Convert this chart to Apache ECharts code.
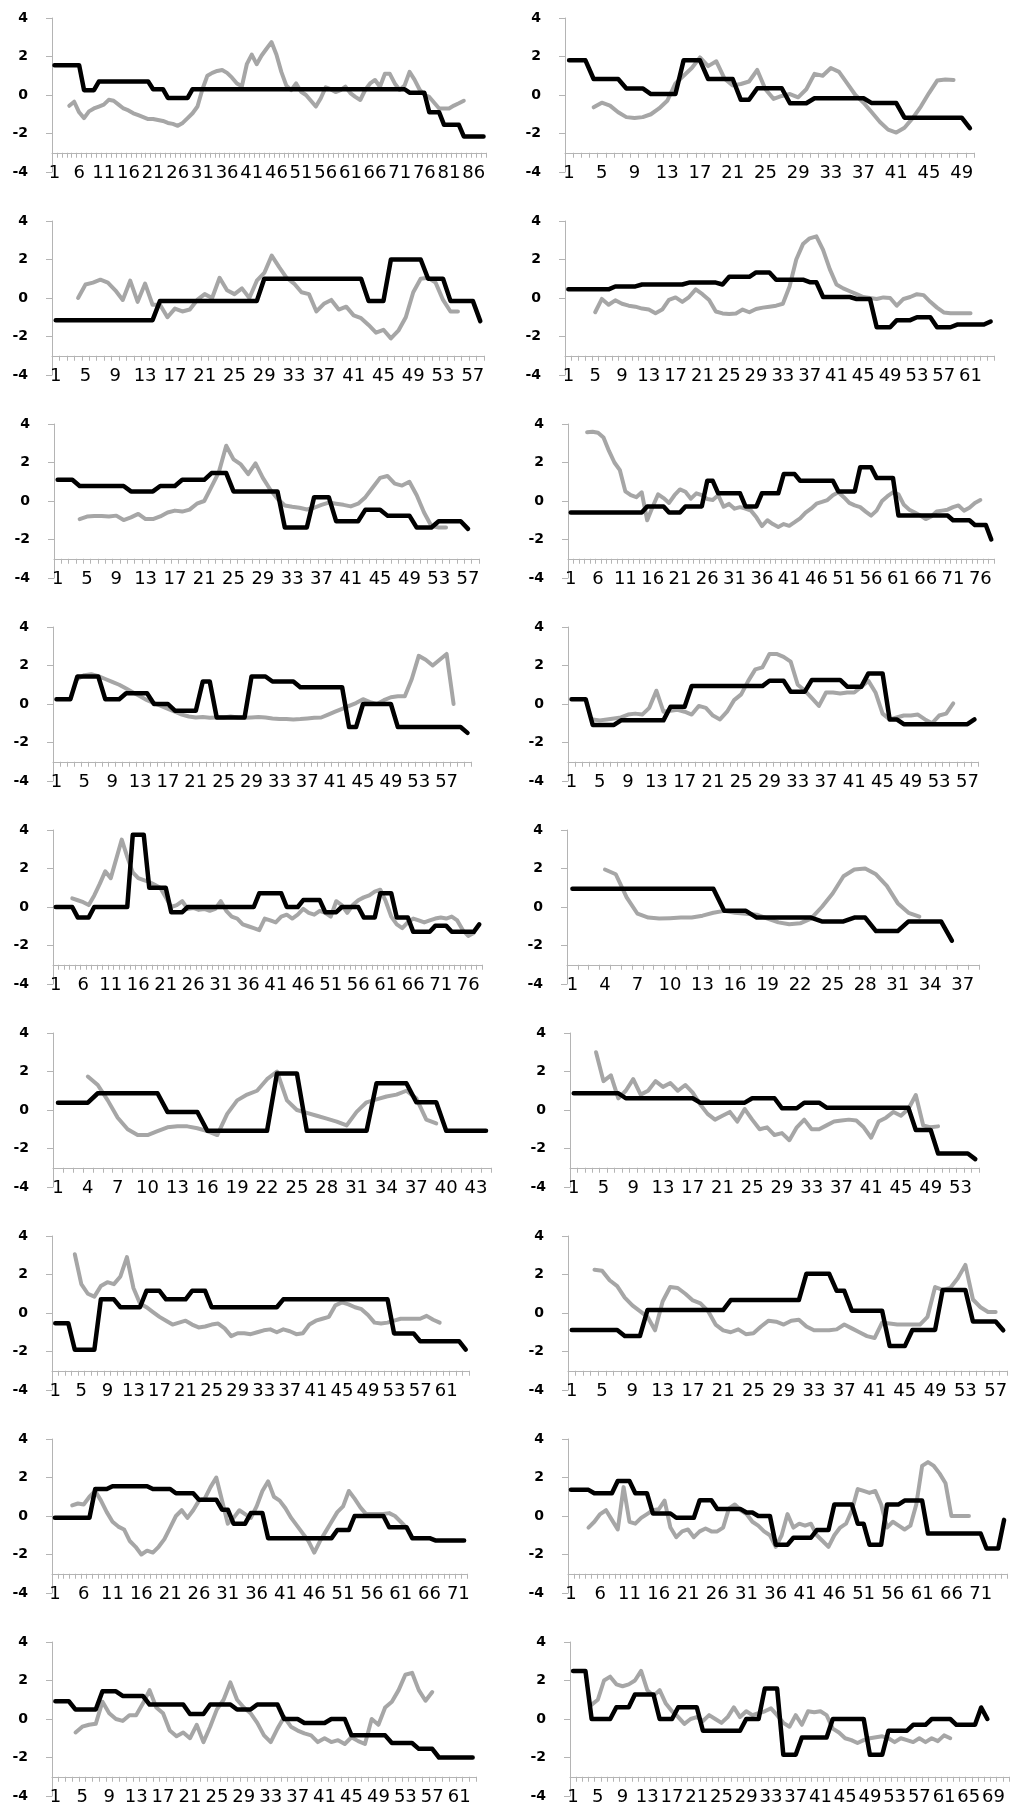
<!DOCTYPE html>
<html>
<head>
<meta charset="utf-8">
<title>Panels</title>
<script src="https://cdn.jsdelivr.net/npm/echarts@6/dist/echarts.min.js"></script>
<style>
html, body { margin: 0; padding: 0; background: #fff; }
#chart { width: 1010px; height: 1810px; }
</style>
</head>
<body>
<div id="chart"></div>
<script>
// 每个小图的类别数和标签间隔
var catCounts = [88, 50, 58, 64, 58, 78, 60, 58, 78, 38, 44, 55, 64, 58, 72, 75, 63, 71];
var labelSteps = [5, 4, 4, 4, 4, 5, 4, 4, 5, 3, 3, 4, 4, 4, 5, 5, 4, 4];

// 灰线数据
var gray01 = [null, null, null,
  -0.56, -0.35, -0.9, -1.2, -0.85, -0.7, -0.6, -0.5, -0.25, -0.3,
  -0.5, -0.7, -0.8, -0.95, -1.05, -1.15, -1.25, -1.25, -1.3, -1.35,
  -1.45, -1.5, -1.6, -1.45, -1.2, -0.95, -0.6, 0.3, 1.0, 1.15,
  1.25, 1.3, 1.15, 0.9, 0.6, 0.45, 1.6, 2.1, 1.6, 2.05,
  2.4, 2.75, 2.1, 1.2, 0.5, 0.25, 0.6, 0.17, 0.0, -0.3,
  -0.6, -0.17, 0.4, 0.3, 0.15, 0.25, 0.43, 0.1, -0.1, -0.26,
  0.26, 0.6, 0.78, 0.43, 1.1, 1.1, 0.6, 0.26, 0.5, 1.2,
  0.8, 0.3, 0.0, -0.1, -0.4, -0.7, -0.7, -0.7, -0.55, -0.43,
  -0.3, null, null, null, null];
var gray02 = [null, null, null,
  -0.64, -0.4, -0.55, -0.9, -1.15, -1.2, -1.15, -1.0, -0.7, -0.3,
  0.6, 1.0, 1.4, 1.95, 1.5, 1.75, 0.85, 0.5, 0.57, 0.7,
  1.3, 0.3, -0.2, -0.05, 0.05, -0.12, 0.3, 1.1, 1.0, 1.4,
  1.2, 0.6, 0.0, -0.4, -0.9, -1.4, -1.8, -1.95, -1.7, -1.2,
  -0.6, 0.1, 0.75, 0.8, 0.78, null, null];
var gray03 = [null, null, null,
  0.0, 0.7, 0.8, 0.95, 0.8, 0.4, -0.1, 0.9, -0.2, 0.75,
  -0.35, -0.35, -1.0, -0.55, -0.7, -0.6, -0.1, 0.2, 0.0, 1.05,
  0.4, 0.2, 0.5, 0.0, 0.9, 1.3, 2.2, 1.6, 1.05, 0.75,
  0.3, 0.2, -0.7, -0.3, -0.1, -0.6, -0.45, -0.9, -1.05, -1.4,
  -1.8, -1.65, -2.1, -1.7, -1.0, 0.3, 1.0, 1.05, 0.8, -0.1,
  -0.7, -0.7, null, null, null];
var gray04 = [null, null, null, null,
  -0.74, -0.05, -0.35, -0.12, -0.3, -0.4, -0.45, -0.55, -0.6, -0.79,
  -0.6, -0.1, 0.03, -0.2, 0.05, 0.45, 0.2, -0.1, -0.7, -0.8,
  -0.83, -0.8, -0.6, -0.74, -0.57, -0.5, -0.45, -0.4, -0.3, 0.6,
  2.0, 2.8, 3.1, 3.2, 2.5, 1.5, 0.7, 0.5, 0.35, 0.2,
  0.05, 0.0, -0.05, 0.03, 0.0, -0.4, -0.05, 0.05, 0.2, 0.15,
  -0.2, -0.5, -0.75, -0.79, -0.79, -0.79, -0.79, null, null, null];
var gray05 = [null, null, null,
  -0.94, -0.81, -0.78, -0.78, -0.81, -0.76, -0.99, -0.85, -0.67, -0.94,
  -0.94, -0.8, -0.6, -0.5, -0.55, -0.45, -0.14, 0.0, 0.75, 1.5,
  2.87, 2.16, 1.9, 1.4, 1.95, 1.2, 0.6, 0.12, -0.23, -0.3,
  -0.35, -0.44, -0.35, -0.2, -0.08, -0.14, -0.2, -0.28, -0.14, 0.2,
  0.7, 1.2, 1.3, 0.9, 0.8, 1.0, 0.3, -0.6, -1.3, -1.38,
  -1.38, null, null, null, null];
var gray06 = [null, null, null,
  3.57, 3.6, 3.55, 3.3, 2.6, 2.0, 1.6, 0.5, 0.3, 0.2,
  0.45, -1.0, -0.3, 0.35, 0.15, -0.1, 0.3, 0.6, 0.48, 0.12,
  0.4, 0.3, 0.1, 0.05, 0.3, -0.3, -0.15, -0.4, -0.32, -0.4,
  -0.5, -0.85, -1.3, -1.0, -1.2, -1.35, -1.2, -1.29, -1.1, -0.9,
  -0.6, -0.4, -0.14, -0.05, 0.05, 0.3, 0.45, 0.2, -0.1, -0.23,
  -0.32, -0.55, -0.76, -0.5, 0.0, 0.25, 0.45, 0.35, -0.2, -0.45,
  -0.6, -0.75, -0.94, -0.8, -0.55, -0.5, -0.45, -0.32, -0.23, -0.5,
  -0.35, -0.1, 0.05, null, null];
var gray07 = [null, null, null,
  1.3, 1.5, 1.55, 1.45, 1.3, 1.15, 1.0, 0.8, 0.6, 0.4,
  0.2, 0.05, -0.1, -0.25, -0.4, -0.55, -0.65, -0.7, -0.68, -0.72,
  -0.7, -0.7, -0.65, -0.7, -0.72, -0.7, -0.68, -0.7, -0.75, -0.78,
  -0.78, -0.8, -0.78, -0.75, -0.72, -0.7, -0.55, -0.4, -0.25, -0.1,
  0.05, 0.25, 0.1, 0.0, 0.2, 0.35, 0.4, 0.4, 1.3, 2.5,
  2.3, 2.0, 2.3, 2.6, 0.0, null, null];
var gray08 = [null, null, null,
  -0.8, -0.85, -0.8, -0.75, -0.7, -0.55, -0.5, -0.55, -0.2, 0.69,
  -0.4, -0.35, -0.3, -0.4, -0.55, -0.1, -0.2, -0.6, -0.8, -0.4,
  0.2, 0.5, 1.2, 1.8, 1.9, 2.6, 2.6, 2.45, 2.2, 1.0,
  0.7, 0.3, -0.1, 0.6, 0.6, 0.55, 0.6, 0.6, 0.9, 1.2,
  0.6, -0.5, -0.8, -0.7, -0.6, -0.6, -0.55, -0.8, -1.0, -0.6,
  -0.5, 0.03, null, null, null];
var gray09 = [null, null, null,
  0.45, 0.35, 0.25, 0.1, 0.6, 1.2, 1.85, 1.5, 2.5, 3.5,
  2.6, 1.8, 1.5, 1.4, 1.3, 1.15, 1.0, 0.5, 0.0, 0.1,
  0.3, -0.1, -0.05, -0.15, -0.1, -0.2, -0.1, 0.3, -0.2, -0.5,
  -0.6, -0.9, -1.0, -1.1, -1.2, -0.6, -0.7, -0.8, -0.5, -0.4,
  -0.6, -0.4, -0.1, -0.3, -0.4, -0.2, -0.3, -0.5, 0.3, 0.1,
  -0.3, 0.1, 0.35, 0.5, 0.6, 0.8, 0.9, 0.3, -0.5, -0.9,
  -1.1, -0.8, -0.6, -0.7, -0.8, -0.7, -0.6, -0.55, -0.6, -0.5,
  -0.7, -1.2, -1.5, -1.35, null];
var gray10 = [null, null, null,
  1.95, 1.7, 0.5, -0.35, -0.55, -0.6, -0.58, -0.55, -0.55, -0.45,
  -0.3, -0.2, -0.3, -0.35, -0.4, -0.6, -0.8, -0.9, -0.85, -0.6,
  0.0, 0.7, 1.6, 1.95, 2.0, 1.7, 1.1, 0.2, -0.3, -0.5,
  null, null, null, null, null];
var gray11 = [null, null, null,
  1.74, 1.3, 0.5, -0.4, -1.0, -1.3, -1.3, -1.1, -0.9, -0.85,
  -0.85, -0.95, -1.1, -1.3, -0.2, 0.5, 0.8, 1.0, 1.6, 2.0,
  0.5, 0.0, -0.15, -0.3, -0.45, -0.6, -0.8, -0.1, 0.4, 0.55,
  0.7, 0.8, 1.0, 0.6, -0.5, -0.7, null, null, null, null, null];
var gray12 = [null, null, null,
  3.0, 1.5, 1.8, 0.6, 1.0, 1.6, 0.8, 1.0, 1.5, 1.2,
  1.4, 1.0, 1.3, 0.9, 0.3, -0.2, -0.5, -0.3, -0.1, -0.6,
  0.05, -0.5, -1.0, -0.9, -1.3, -1.2, -1.57, -0.9, -0.5, -1.0,
  -1.0, -0.8, -0.6, -0.55, -0.5, -0.55, -0.9, -1.44, -0.6, -0.4,
  -0.1, -0.3, 0.05, 0.78, -0.8, -0.9, -0.85, null, null, null, null, null];
var gray13 = [null, null, null,
  3.05, 1.5, 1.0, 0.85, 1.4, 1.6, 1.5, 1.9, 2.9, 1.3,
  0.5, 0.3, 0.05, -0.2, -0.4, -0.6, -0.5, -0.4, -0.6, -0.75,
  -0.7, -0.6, -0.55, -0.8, -1.2, -1.05, -1.05, -1.1, -1.0, -0.9,
  -0.85, -1.0, -0.85, -0.95, -1.1, -1.05, -0.6, -0.4, -0.3, -0.2,
  0.4, 0.55, 0.45, 0.3, 0.2, -0.1, -0.5, -0.55, -0.5, -0.4,
  -0.3, -0.3, -0.3, -0.3, -0.15, -0.35, -0.5, null, null, null, null];
var gray14 = [null, null, null,
  2.25, 2.2, 1.7, 1.4, 0.8, 0.4, 0.1, -0.2, -0.9, 0.6,
  1.35, 1.3, 1.0, 0.65, 0.5, 0.1, -0.6, -0.9, -1.0, -0.85,
  -1.1, -1.05, -0.7, -0.4, -0.45, -0.6, -0.4, -0.35, -0.7, -0.9,
  -0.9, -0.9, -0.85, -0.6, -0.8, -1.0, -1.2, -1.3, -0.5, -0.55,
  -0.6, -0.6, -0.6, -0.6, -0.2, 1.35, 1.2, 1.3, 1.8, 2.5,
  0.7, 0.3, 0.05, 0.05, null];
var gray15 = [null, null, null,
  0.55, 0.65, 0.6, 1.0, 1.3, 0.8, 0.2, -0.3, -0.55, -0.7,
  -1.3, -1.6, -2.0, -1.8, -1.9, -1.6, -1.2, -0.6, 0.0, 0.3,
  -0.1, 0.3, 0.8, 0.9, 1.5, 2.0, 0.8, -0.4, -0.1, 0.3,
  0.1, -0.1, 0.5, 1.3, 1.8, 1.0, 0.8, 0.4, -0.1, -0.5,
  -0.9, -1.3, -1.9, -1.3, -0.8, -0.3, 0.2, 0.5, 1.3, 0.9,
  0.45, 0.1, 0.1, 0.1, 0.1, 0.15, 0.0, -0.3, -0.6,
  null, null, null, null, null, null, null, null, null, null];
var gray16 = [null, null, null,
  -0.6, -0.3, 0.1, 0.3, -0.2, -0.7, 1.5, -0.3, -0.4, -0.1,
  0.1, 0.3, 0.35, 0.8, -0.6, -1.1, -0.8, -0.7, -1.1, -0.8,
  -0.65, -0.8, -0.8, -0.6, 0.4, 0.6, 0.3, 0.1, -0.3, -0.5,
  -0.8, -1.0, -1.6, -1.0, 0.1, -0.6, -0.4, -0.5, -0.4, -1.0,
  -1.3, -1.6, -1.0, -0.6, -0.4, 0.3, 1.4, 1.3, 1.2, 1.3,
  0.6, -0.6, -0.3, -0.5, -0.7, -0.5, 0.6, 2.6, 2.8, 2.6,
  2.2, 1.7, 0.0, 0.0, 0.0, 0.0, null, null, null, null, null, null];
var gray17 = [null, null, null,
  -0.7, -0.4, -0.3, -0.25, 0.9, 0.3, 0.0, -0.1, 0.2, 0.2,
  0.8, 1.5, 0.6, 0.3, -0.6, -0.9, -0.7, -1.0, -0.3, -1.2,
  -0.4, 0.5, 1.0, 1.9, 1.0, 0.6, 0.3, -0.2, -0.85, -1.2,
  -0.5, 0.1, -0.4, -0.6, -0.75, -0.85, -1.2, -1.0, -1.2, -1.1,
  -1.3, -0.95, -1.15, -1.3, 0.0, -0.3, 0.6, 0.9, 1.5, 2.3,
  2.4, 1.5, 0.95, 1.4, null, null, null, null, null, null];
var gray18 = [null, null, null,
  0.75, 1.0, 2.0, 2.2, 1.8, 1.7, 1.8, 2.0, 2.5, 1.5,
  1.2, 1.5, 0.8, 0.4, 0.1, -0.25, 0.0, 0.1, -0.1, 0.2,
  0.0, -0.2, 0.1, 0.6, 0.1, 0.4, 0.2, 0.3, 0.4, 0.55,
  0.2, -0.2, -0.4, 0.2, -0.3, 0.4, 0.35, 0.4, 0.2, -0.5,
  -0.7, -1.0, -1.1, -1.25, -1.1, -1.0, -0.95, -0.9, -1.0, -1.2,
  -1.0, -1.1, -1.2, -1.0, -1.2, -1.0, -1.15, -0.85, -1.0,
  null, null, null, null, null, null, null, null, null];

// 黑色阶梯线数据
var black01 = [1.55, 1.55, 1.55, 1.55, 1.55, 1.55,
  0.25, 0.25, 0.25,
  0.7, 0.7, 0.7, 0.7, 0.7, 0.7, 0.7, 0.7, 0.7, 0.7, 0.7,
  0.3, 0.3, 0.3,
  -0.15, -0.15, -0.15, -0.15, -0.15,
  0.3, 0.3, 0.3, 0.3, 0.3, 0.3, 0.3, 0.3, 0.3, 0.3, 0.3,
  0.3, 0.3, 0.3, 0.3, 0.3, 0.3, 0.3, 0.3, 0.3, 0.3, 0.3,
  0.3, 0.3, 0.3, 0.3, 0.3, 0.3, 0.3, 0.3, 0.3, 0.3, 0.3,
  0.3, 0.3, 0.3, 0.3, 0.3, 0.3, 0.3, 0.3, 0.3, 0.3, 0.3,
  0.12, 0.12, 0.12, 0.12,
  -0.9, -0.9, -0.9,
  -1.55, -1.55, -1.55, -1.55,
  -2.15, -2.15, -2.15, -2.15, -2.15];
var black02 = [1.8, 1.8, 1.8,
  0.83, 0.83, 0.83, 0.83,
  0.34, 0.34, 0.34,
  0.05, 0.05, 0.05, 0.05,
  1.8, 1.8, 1.8,
  0.83, 0.83, 0.83, 0.83,
  -0.25, -0.25,
  0.35, 0.35, 0.35, 0.35,
  -0.43, -0.43, -0.43,
  -0.17, -0.17, -0.17, -0.17, -0.17, -0.17, -0.17,
  -0.42, -0.42, -0.42, -0.42,
  -1.18, -1.18, -1.18, -1.18, -1.18, -1.18, -1.18, -1.18,
  -1.72];
var black03 = [-1.15, -1.15, -1.15, -1.15, -1.15, -1.15, -1.15, -1.15, -1.15, -1.15, -1.15, -1.15, -1.15, -1.15,
  -0.15, -0.15, -0.15, -0.15, -0.15, -0.15, -0.15, -0.15, -0.15, -0.15, -0.15, -0.15, -0.15, -0.15,
  1.0, 1.0, 1.0, 1.0, 1.0, 1.0, 1.0, 1.0, 1.0, 1.0, 1.0, 1.0, 1.0, 1.0,
  -0.15, -0.15, -0.15,
  2.0, 2.0, 2.0, 2.0, 2.0,
  1.0, 1.0, 1.0,
  -0.15, -0.15, -0.15, -0.15,
  -1.2];
var black04 = [0.45, 0.45, 0.45, 0.45, 0.45, 0.45, 0.45,
  0.6, 0.6, 0.6, 0.6,
  0.7, 0.7, 0.7, 0.7, 0.7, 0.7, 0.7,
  0.8, 0.8, 0.8, 0.8, 0.8,
  0.7,
  1.1, 1.1, 1.1, 1.1,
  1.33, 1.33, 1.33,
  0.95, 0.95, 0.95, 0.95, 0.95,
  0.82, 0.82,
  0.05, 0.05, 0.05, 0.05, 0.05,
  -0.05, -0.05, -0.05,
  -1.52, -1.52, -1.52,
  -1.15, -1.15, -1.15,
  -1.0, -1.0, -1.0,
  -1.52, -1.52, -1.52,
  -1.38, -1.38, -1.38, -1.38, -1.38,
  -1.22];
var black05 = [1.1, 1.1, 1.1,
  0.78, 0.78, 0.78, 0.78, 0.78, 0.78, 0.78,
  0.5, 0.5, 0.5, 0.5,
  0.78, 0.78, 0.78,
  1.1, 1.1, 1.1, 1.1,
  1.45, 1.45, 1.45,
  0.5, 0.5, 0.5, 0.5, 0.5, 0.5, 0.5,
  -1.38, -1.38, -1.38, -1.38,
  0.2, 0.2, 0.2,
  -1.05, -1.05, -1.05, -1.05,
  -0.45, -0.45, -0.45,
  -0.76, -0.76, -0.76, -0.76,
  -1.38, -1.38, -1.38,
  -1.05, -1.05, -1.05, -1.05,
  -1.45, null];
var black06 = [-0.6, -0.6, -0.6, -0.6, -0.6, -0.6, -0.6, -0.6, -0.6, -0.6, -0.6, -0.6, -0.6, -0.6,
  -0.28, -0.28, -0.28, -0.28,
  -0.6, -0.6, -0.6,
  -0.28, -0.28, -0.28, -0.28,
  1.05, 1.05,
  0.4, 0.4, 0.4, 0.4, 0.4,
  -0.28, -0.28, -0.28,
  0.4, 0.4, 0.4, 0.4,
  1.4, 1.4, 1.4,
  1.05, 1.05, 1.05, 1.05, 1.05, 1.05, 1.05,
  0.5, 0.5, 0.5, 0.5,
  1.75, 1.75, 1.75,
  1.2, 1.2, 1.2, 1.2,
  -0.75, -0.75, -0.75, -0.75, -0.75, -0.75, -0.75, -0.75, -0.75, -0.75,
  -1.0, -1.0, -1.0, -1.0,
  -1.25, -1.25, -1.25,
  -2.0];
var black07 = [0.25, 0.25, 0.25,
  1.43, 1.43, 1.43, 1.43,
  0.25, 0.25, 0.25,
  0.56, 0.56, 0.56, 0.56,
  0.0, 0.0, 0.0,
  -0.35, -0.35, -0.35, -0.35,
  1.17, 1.17,
  -0.7, -0.7, -0.7, -0.7, -0.7,
  1.43, 1.43, 1.43,
  1.17, 1.17, 1.17, 1.17,
  0.87, 0.87, 0.87, 0.87, 0.87, 0.87, 0.87,
  -1.2, -1.2,
  0.0, 0.0, 0.0, 0.0, 0.0,
  -1.2, -1.2, -1.2, -1.2, -1.2, -1.2, -1.2, -1.2, -1.2, -1.2,
  -1.5];
var black08 = [0.25, 0.25, 0.25,
  -1.09, -1.09, -1.09, -1.09,
  -0.85, -0.85, -0.85, -0.85, -0.85, -0.85, -0.85,
  -0.14, -0.14, -0.14,
  0.93, 0.93, 0.93, 0.93, 0.93, 0.93, 0.93, 0.93, 0.93, 0.93, 0.93,
  1.21, 1.21, 1.21,
  0.64, 0.64, 0.64,
  1.25, 1.25, 1.25, 1.25, 1.25,
  0.9, 0.9, 0.9,
  1.59, 1.59, 1.59,
  -0.8, -0.8,
  -1.05, -1.05, -1.05, -1.05, -1.05, -1.05, -1.05, -1.05, -1.05, -1.05,
  -0.8];
var black09 = [0.0, 0.0, 0.0, 0.0,
  -0.54, -0.54, -0.54,
  0.0, 0.0, 0.0, 0.0, 0.0, 0.0, 0.0,
  3.75, 3.75, 3.75,
  1.0, 1.0, 1.0, 1.0,
  -0.27, -0.27, -0.27,
  0.0, 0.0, 0.0, 0.0, 0.0, 0.0, 0.0, 0.0, 0.0, 0.0, 0.0, 0.0, 0.0,
  0.71, 0.71, 0.71, 0.71, 0.71,
  0.0, 0.0, 0.0,
  0.36, 0.36, 0.36, 0.36,
  -0.27, -0.27, -0.27,
  0.0, 0.0, 0.0, 0.0,
  -0.54, -0.54, -0.54,
  0.71, 0.71, 0.71,
  -0.54, -0.54, -0.54,
  -1.29, -1.29, -1.29, -1.29,
  -0.98, -0.98, -0.98,
  -1.29, -1.29, -1.29, -1.29, -1.29,
  -0.9];
var black10 = [0.95, 0.95, 0.95, 0.95, 0.95, 0.95, 0.95, 0.95, 0.95, 0.95, 0.95, 0.95, 0.95, 0.95,
  -0.2, -0.2, -0.2,
  -0.55, -0.55, -0.55, -0.55, -0.55, -0.55,
  -0.75, -0.75, -0.75,
  -0.55, -0.55,
  -1.25, -1.25, -1.25,
  -0.75, -0.75, -0.75, -0.75,
  -1.75, null, null];
var black11 = [0.38, 0.38, 0.38, 0.38,
  0.87, 0.87, 0.87, 0.87, 0.87, 0.87, 0.87,
  -0.1, -0.1, -0.1, -0.1,
  -1.08, -1.08, -1.08, -1.08, -1.08, -1.08, -1.08,
  1.9, 1.9, 1.9,
  -1.08, -1.08, -1.08, -1.08, -1.08, -1.08, -1.08,
  1.39, 1.39, 1.39, 1.39,
  0.4, 0.4, 0.4,
  -1.08, -1.08, -1.08, -1.08, -1.08];
var black12 = [0.87, 0.87, 0.87, 0.87, 0.87, 0.87, 0.87,
  0.61, 0.61, 0.61, 0.61, 0.61, 0.61, 0.61, 0.61, 0.61, 0.61,
  0.38, 0.38, 0.38, 0.38, 0.38, 0.38, 0.38,
  0.61, 0.61, 0.61, 0.61,
  0.09, 0.09, 0.09,
  0.38, 0.38, 0.38,
  0.12, 0.12, 0.12, 0.12, 0.12, 0.12, 0.12, 0.12, 0.12, 0.12, 0.12, 0.12,
  -1.04, -1.04, -1.04,
  -2.26, -2.26, -2.26, -2.26, -2.26,
  -2.55];
var black13 = [-0.53, -0.53, -0.53,
  -1.91, -1.91, -1.91, -1.91,
  0.71, 0.71, 0.71,
  0.3, 0.3, 0.3, 0.3,
  1.15, 1.15, 1.15,
  0.71, 0.71, 0.71, 0.71,
  1.15, 1.15, 1.15,
  0.3, 0.3, 0.3, 0.3, 0.3, 0.3, 0.3, 0.3, 0.3, 0.3, 0.3,
  0.71, 0.71, 0.71, 0.71, 0.71, 0.71, 0.71, 0.71, 0.71, 0.71, 0.71, 0.71, 0.71, 0.71, 0.71, 0.71, 0.71,
  -1.06, -1.06, -1.06, -1.06,
  -1.47, -1.47, -1.47, -1.47, -1.47, -1.47, -1.47,
  -1.9];
var black14 = [-0.88, -0.88, -0.88, -0.88, -0.88, -0.88, -0.88,
  -1.2, -1.2, -1.2,
  0.15, 0.15, 0.15, 0.15, 0.15, 0.15, 0.15, 0.15, 0.15, 0.15, 0.15,
  0.67, 0.67, 0.67, 0.67, 0.67, 0.67, 0.67, 0.67, 0.67, 0.67,
  2.04, 2.04, 2.04, 2.04,
  1.15, 1.15,
  0.12, 0.12, 0.12, 0.12, 0.12,
  -1.72, -1.72, -1.72,
  -0.88, -0.88, -0.88, -0.88,
  1.2, 1.2, 1.2, 1.2,
  -0.44, -0.44, -0.44, -0.44,
  -0.9];
var black15 = [-0.09, -0.09, -0.09, -0.09, -0.09, -0.09, -0.09,
  1.4, 1.4, 1.4,
  1.55, 1.55, 1.55, 1.55, 1.55, 1.55, 1.55,
  1.4, 1.4, 1.4, 1.4,
  1.18, 1.18, 1.18, 1.18,
  0.85, 0.85, 0.85, 0.85,
  0.33, 0.33,
  -0.4, -0.4, -0.4,
  0.15, 0.15, 0.15,
  -1.15, -1.15, -1.15, -1.15, -1.15, -1.15, -1.15, -1.15, -1.15, -1.15, -1.15, -1.15,
  -0.73, -0.73, -0.73,
  0.0, 0.0, 0.0, 0.0, 0.0, 0.0,
  -0.58, -0.58, -0.58, -0.58,
  -1.15, -1.15, -1.15, -1.15,
  -1.27, -1.27, -1.27, -1.27, -1.27, -1.27];
var black16 = [1.36, 1.36, 1.36, 1.36,
  1.18, 1.18, 1.18, 1.18,
  1.82, 1.82, 1.82,
  1.18, 1.18, 1.18,
  0.13, 0.13, 0.13, 0.13,
  -0.09, -0.09, -0.09, -0.09,
  0.82, 0.82, 0.82,
  0.36, 0.36, 0.36, 0.36, 0.36,
  0.18, 0.18,
  0.0, 0.0, 0.0,
  -1.49, -1.49, -1.49,
  -1.13, -1.13, -1.13, -1.13,
  -0.73, -0.73, -0.73,
  0.6, 0.6, 0.6, 0.6,
  -0.4, -0.4,
  -1.49, -1.49, -1.49,
  0.6, 0.6, 0.6,
  0.8, 0.8, 0.8, 0.8,
  -0.91, -0.91, -0.91, -0.91, -0.91, -0.91, -0.91, -0.91, -0.91, -0.91,
  -1.69, -1.69, -1.69,
  -0.2];
var black17 = [0.92, 0.92, 0.92,
  0.49, 0.49, 0.49, 0.49,
  1.44, 1.44, 1.44,
  1.2, 1.2, 1.2, 1.2,
  0.75, 0.75, 0.75, 0.75, 0.75, 0.75,
  0.26, 0.26, 0.26,
  0.75, 0.75, 0.75, 0.75,
  0.49, 0.49, 0.49,
  0.75, 0.75, 0.75, 0.75,
  0.0, 0.0, 0.0,
  -0.21, -0.21, -0.21, -0.21,
  0.0, 0.0, 0.0,
  -0.85, -0.85, -0.85, -0.85, -0.85, -0.85,
  -1.25, -1.25, -1.25, -1.25,
  -1.55, -1.55, -1.55,
  -2.0, -2.0, -2.0, -2.0, -2.0, -2.0];
var black18 = [2.49, 2.49, 2.49,
  0.0, 0.0, 0.0, 0.0,
  0.61, 0.61, 0.61,
  1.27, 1.27, 1.27, 1.27,
  0.0, 0.0, 0.0,
  0.61, 0.61, 0.61, 0.61,
  -0.61, -0.61, -0.61, -0.61, -0.61, -0.61, -0.61,
  0.0, 0.0, 0.0,
  1.58, 1.58, 1.58,
  -1.86, -1.86, -1.86,
  -0.96, -0.96, -0.96, -0.96, -0.96,
  0.0, 0.0, 0.0, 0.0, 0.0, 0.0,
  -1.86, -1.86, -1.86,
  -0.61, -0.61, -0.61, -0.61,
  -0.3, -0.3, -0.3,
  0.0, 0.0, 0.0, 0.0,
  -0.3, -0.3, -0.3, -0.3,
  0.6, 0.0, null, null, null];

var grayList = [gray01, gray02, gray03, gray04, gray05, gray06, gray07, gray08, gray09,
  gray10, gray11, gray12, gray13, gray14, gray15, gray16, gray17, gray18];
var blackList = [black01, black02, black03, black04, black05, black06, black07, black08, black09,
  black10, black11, black12, black13, black14, black15, black16, black17, black18];

// 版面：每个小图绘图区的左右边界（像素）
var plotLeft = [52, 565, 52, 565, 54, 568, 53, 568, 53, 567, 53, 570, 52, 568, 52, 568, 52, 570];
var plotRight = [486, 974, 484, 994, 479, 994, 471, 978, 482, 979, 491, 979, 469, 1007, 467, 1007, 476, 1009];
var rowTop = 18, rowGap = 203, plotHeight = 154;

document.addEventListener('DOMContentLoaded', function() {
    var chart = echarts.init(document.getElementById('chart'));
    var axisGray = '#b4b4b4';
    var grids = [], xAxes = [], yAxes = [], series = [];

    for (var i = 0; i < catCounts.length; i++) {
        var row = Math.floor(i / 2);
        grids.push({
            left: plotLeft[i],
            width: plotRight[i] - plotLeft[i],
            top: rowTop + row * rowGap,
            height: plotHeight,
            containLabel: false,
            outerBoundsMode: 'none'
        });

        var cats = [];
        for (var k = 1; k <= catCounts[i]; k++) cats.push(String(k));

        // 横轴放在 y = -3 处（借助隐藏的第二根纵轴的零点）
        xAxes.push({
            type: 'category',
            gridIndex: i,
            data: cats,
            boundaryGap: true,
            axisLine: { show: true, onZero: true, onZeroAxisIndex: 2 * i + 1, lineStyle: { color: axisGray, width: 1 } },
            axisTick: { show: true, interval: 0, length: 5, lineStyle: { color: axisGray, width: 1 } },
            axisLabel: {
                interval: labelSteps[i] - 1,
                margin: -8,
                hideOverlap: false,
                color: '#000',
                fontSize: 18,
                fontFamily: 'DejaVu Sans'
            },
            splitLine: { show: false }
        });

        yAxes.push({
            type: 'value',
            gridIndex: i,
            position: 'left',
            min: -4,
            max: 4,
            interval: 2,
            axisLine: { show: true, lineStyle: { color: axisGray, width: 1 } },
            axisTick: { show: true, length: 6, lineStyle: { color: axisGray } },
            axisLabel: { margin: 24, align: 'right', color: '#000', fontSize: 14, fontWeight: 'bold', fontFamily: 'DejaVu Sans' },
            splitLine: { show: false }
        });
        yAxes.push({
            type: 'value',
            gridIndex: i,
            position: 'right',
            min: -1,
            max: 7,
            show: false,
            splitLine: { show: false }
        });

        series.push({
            type: 'line',
            xAxisIndex: i,
            yAxisIndex: 2 * i,
            data: grayList[i],
            symbol: 'none',
            silent: true,
            lineStyle: { color: '#a6a6a6', width: 4, join: 'round', cap: 'round' }
        });
        series.push({
            type: 'line',
            xAxisIndex: i,
            yAxisIndex: 2 * i,
            data: blackList[i],
            symbol: 'none',
            silent: true,
            lineStyle: { color: '#000', width: 4.5, join: 'round', cap: 'round' }
        });
    }

    chart.setOption({
        animation: false,
        backgroundColor: '#fff',
        grid: grids,
        xAxis: xAxes,
        yAxis: yAxes,
        series: series
    });
});
</script>
</body>
</html>
